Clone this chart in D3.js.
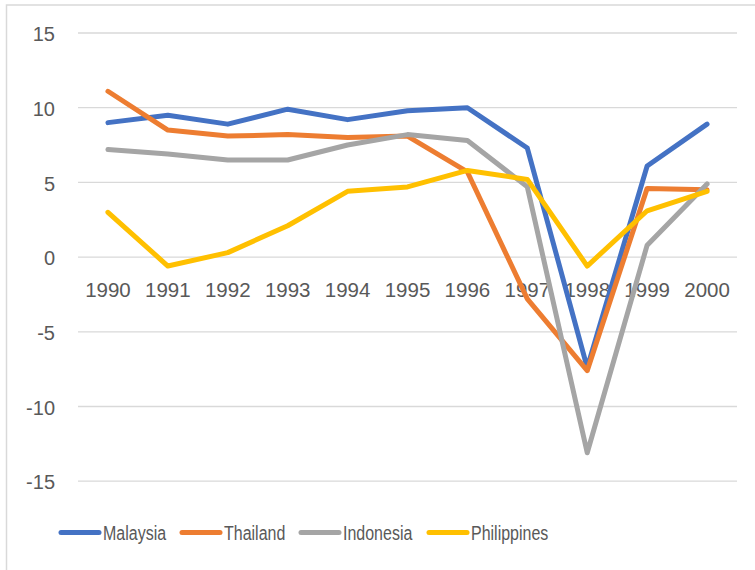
<!DOCTYPE html>
<html>
<head>
<meta charset="utf-8">
<script src="https://cdn.jsdelivr.net/npm/d3@7"></script>
<style>
  body { margin: 0; background: #fff; }
  text { fill: #595959; }
</style>
</head>
<body>
<svg id="chart" width="755" height="570"></svg>
<script>
// years along the bottom
const years = ['1990','1991','1992','1993','1994','1995','1996','1997','1998','1999','2000'];

// growth values
const malaysia    = [9.0, 9.5, 8.9, 9.9, 9.2, 9.8, 10.0, 7.3, -7.4, 6.1, 8.9];
const thailand    = [11.1, 8.5, 8.1, 8.2, 8.0, 8.1, 5.7, -2.8, -7.6, 4.6, 4.5];
const indonesia   = [7.2, 6.9, 6.5, 6.5, 7.5, 8.2, 7.8, 4.7, -13.1, 0.8, 4.9];
const philippines = [3.0, -0.6, 0.3, 2.1, 4.4, 4.7, 5.8, 5.2, -0.6, 3.1, 4.4];

const yTicks = [15, 10, 5, 0, -5, -10, -15];

const series = [
    { name: 'Malaysia', values: malaysia, color: '#4472C4' },
    { name: 'Thailand', values: thailand, color: '#ED7D31' },
    { name: 'Indonesia', values: indonesia, color: '#A5A5A5' },
    { name: 'Philippines', values: philippines, color: '#FFC000' }
];

let svg = d3.select('#chart');

// chart frame, cut off on the right and bottom like the screenshot
svg.append('rect')
    .attr('x', 6.5).attr('y', 5)
    .attr('width', 800).attr('height', 600)
    .attr('fill', 'none')
    .attr('stroke', '#d9d9d9')
    .attr('stroke-width', 1.5);

let x = d3.scaleBand()
    .domain(years)
    .range([78, 737]);

let y = d3.scaleLinear()
    .domain([-15, 15])
    .range([481.2, 33]);

// horizontal gridlines
svg.append('g')
    .selectAll('line')
    .data(yTicks)
    .join('line')
        .attr('x1', 78).attr('x2', 737)
        .attr('y1', d => y(d)).attr('y2', d => y(d))
        .attr('stroke', '#d9d9d9')
        .attr('stroke-width', 1.3);

// y labels
svg.append('g')
    .selectAll('text')
    .data(yTicks)
    .join('text')
        .attr('x', 55)
        .attr('y', d => y(d) + 8.2)
        .attr('text-anchor', 'end')
        .style('font-family', '"Liberation Sans", Arial, sans-serif')
        .style('font-size', '20px')
        .text(d => d);

// x labels sit just under the zero line
svg.append('g')
    .selectAll('text')
    .data(years)
    .join('text')
        .attr('x', d => x(d) + x.bandwidth() / 2)
        .attr('y', y(0) + 39.5)
        .attr('text-anchor', 'middle')
        .style('font-family', '"Liberation Sans", Arial, sans-serif')
        .style('font-size', '20.5px')
        .text(d => d);

// the lines
let line = d3.line()
    .x((d, i) => x(years[i]) + x.bandwidth() / 2)
    .y(d => y(d));

svg.append('g')
    .selectAll('path')
    .data(series)
    .join('path')
        .attr('d', d => line(d.values))
        .attr('fill', 'none')
        .attr('stroke', d => d.color)
        .attr('stroke-width', 5)
        .attr('stroke-linejoin', 'round')
        .attr('stroke-linecap', 'round');

// legend along the bottom
const legendX = [61, 182, 301, 429];
let legend = svg.append('g')
    .selectAll('g')
    .data(series)
    .join('g')
        .attr('transform', (d, i) => `translate(${legendX[i]},532.5)`);

legend.append('line')
    .attr('x1', 0).attr('x2', 38)
    .attr('stroke', d => d.color)
    .attr('stroke-width', 5)
    .attr('stroke-linecap', 'round');

// legend text is condensed in the original, squeeze it horizontally
legend.append('text')
    .attr('transform', 'translate(42,7.5) scale(0.82,1)')
    .style('font-family', '"Liberation Sans", Arial, sans-serif')
    .style('font-size', '19.5px')
    .text(d => d.name);
</script>
</body>
</html>
